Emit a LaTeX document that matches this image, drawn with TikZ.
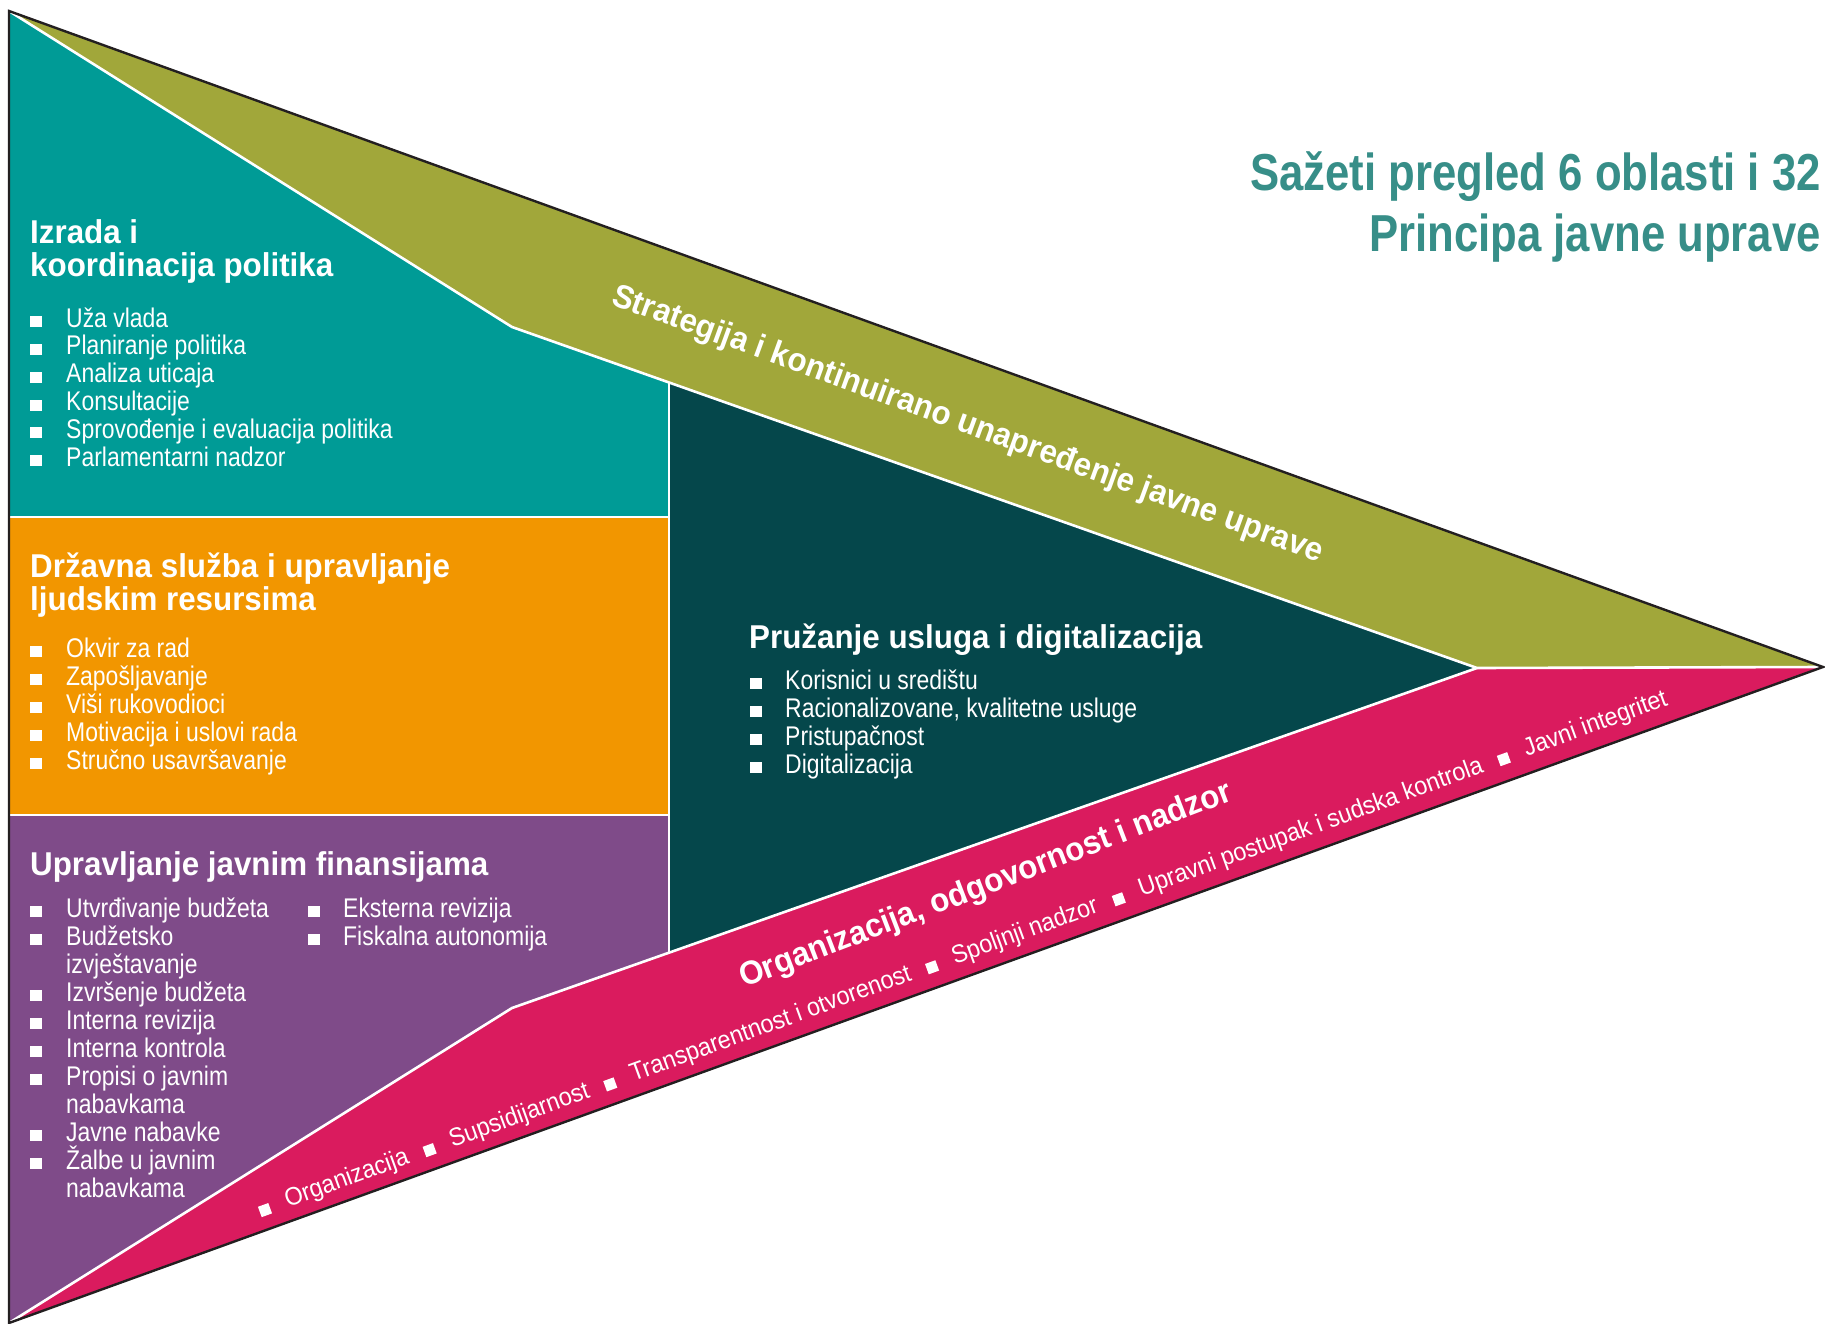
\documentclass[tikz,border=0pt]{standalone}
\usepackage{fontspec}
\setmainfont{Liberation Sans}
\newfontfamily\headfam[FakeStretch=0.95]{Liberation Sans}
\newfontfamily\titlefam[FakeStretch=0.84]{Liberation Sans}
\newfontfamily\itemfam[FakeStretch=0.85]{Liberation Sans}
\newfontfamily\bandfam[FakeStretch=0.93]{Liberation Sans}

\definecolor{cteal}{HTML}{009B96}
\definecolor{colive}{HTML}{A1A73A}
\definecolor{corange}{HTML}{F29600}
\definecolor{cpurple}{HTML}{7F4B89}
\definecolor{cdark}{HTML}{05474B}
\definecolor{cmagenta}{HTML}{DA1B5E}
\definecolor{ctitle}{HTML}{378E88}
\definecolor{cedge}{HTML}{231F20}

% small white square used inside the rotated band text
\newcommand\bandsq{\rule{11pt}{11pt}}

\begin{document}
\begin{tikzpicture}[x=1pt,y=-1pt,
  headtxt/.style={anchor=base west, inner sep=0pt, text=white,
    font=\headfam\bfseries\fontsize{33}{33}\selectfont},
  itemtxt/.style={anchor=base west, inner sep=0pt, text=white,
    font=\itemfam\fontsize{27}{28}\selectfont},
  bandtxt/.style={anchor=base west, inner sep=0pt, text=white,
    font=\bandfam\fontsize{25.2}{25.2}\selectfont},
  titletxt/.style={anchor=base east, inner sep=0pt, text=ctitle,
    font=\titlefam\bfseries\fontsize{52}{52}\selectfont},
  bul/.style={anchor=south west, fill=white, inner sep=0pt,
    minimum width=11.5pt, minimum height=11pt},
  sep/.style={draw=white, line width=2.6pt, line join=miter},
  edge/.style={draw=cedge, line width=2.4pt, line join=miter},
]
\useasboundingbox (0,0) rectangle (1825,1324);

% corner points of the arrow and its inner divisions
\coordinate (A) at (9,11);
\coordinate (B) at (9,1323);
\coordinate (T) at (1823,667);
\coordinate (K1) at (512,327);
\coordinate (K2) at (512,1008);
\coordinate (I) at (1477,668);
\coordinate (P1) at (669,382.5);
\coordinate (P2) at (669,952.7);
\coordinate (L1) at (9,517);
\coordinate (R1) at (669,517);
\coordinate (L2) at (9,815);
\coordinate (R2) at (669,815);

% coloured areas
\fill[colive] (A) -- (T) -- (I) -- (K1) -- cycle;
\fill[cteal] (A) -- (K1) -- (P1) -- (R1) -- (L1) -- cycle;
\fill[corange] (L1) -- (R1) -- (R2) -- (L2) -- cycle;
\fill[cpurple] (L2) -- (R2) -- (P2) -- (K2) -- (B) -- cycle;
\fill[cdark] (P1) -- (I) -- (P2) -- cycle;
\fill[cmagenta] (B) -- (K2) -- (I) -- (T) -- cycle;

% white separating lines
\draw[sep] (A) -- (K1) -- (I) -- (T);
\draw[sep] (B) -- (K2) -- (I);
\draw[sep] (P1) -- (P2);
\draw[sep] (L1) -- (R1);
\draw[sep] (L2) -- (R2);

% dark outline of the arrow
\draw[edge] (A) -- (T) -- (B) -- cycle;

% title
\node[titletxt] (title1) at (1821,191) {Sažeti pregled 6 oblasti i 32};
\node[titletxt] (title2) at (1821,252) {Principa javne uprave};

% policy development and coordination
\node[headtxt] (h1a) at (30,243.3) {Izrada i};
\node[headtxt] (h1b) at (30,276.7) {koordinacija politika};
\foreach \t [count=\i] in {Uža vlada, Planiranje politika, Analiza uticaja,
    Konsultacije, Sprovođenje i evaluacija politika, Parlamentarni nadzor} {
  \node[bul] (pb\i) at (30,{327+27.9*(\i-1)}) {};
  \node[itemtxt] (pt\i) at (66,{327+27.9*(\i-1)}) {\t};
}

% civil service
\node[headtxt] (h2a) at (30,577) {Državna služba i upravljanje};
\node[headtxt] (h2b) at (30,610) {ljudskim resursima};
\foreach \t [count=\i] in {Okvir za rad, Zapošljavanje, Viši rukovodioci,
    Motivacija i uslovi rada, Stručno usavršavanje} {
  \node[bul] (cb\i) at (30,{657+28*(\i-1)}) {};
  \node[itemtxt] (ct\i) at (66,{657+28*(\i-1)}) {\t};
}

% public finance
\node[headtxt] (h3) at (30,875) {Upravljanje javnim finansijama};
\foreach \b/\t [count=\i] in {1/Utvrđivanje budžeta, 1/Budžetsko, 0/izvještavanje,
    1/Izvršenje budžeta, 1/Interna revizija, 1/Interna kontrola,
    1/Propisi o javnim, 0/nabavkama, 1/Javne nabavke, 1/Žalbe u javnim, 0/nabavkama} {
  \ifnum\b=1 \node[bul] (fb\i) at (30,{917+28*(\i-1)}) {}; \fi
  \node[itemtxt] (ft\i) at (66,{917+28*(\i-1)}) {\t};
}
\foreach \t [count=\i] in {Eksterna revizija, Fiskalna autonomija} {
  \node[bul] (gb\i) at (308,{917+28*(\i-1)}) {};
  \node[itemtxt] (gt\i) at (343,{917+28*(\i-1)}) {\t};
}

% service delivery
\node[headtxt] (h4) at (749,648) {Pružanje usluga i digitalizacija};
\foreach \t [count=\i] in {Korisnici u središtu, {Racionalizovane, kvalitetne usluge},
    Pristupačnost, Digitalizacija} {
  \node[bul] (sb\i) at (750,{689+28*(\i-1)}) {};
  \node[itemtxt] (st\i) at (785,{689+28*(\i-1)}) {\t};
}

% strategic band
\node[headtxt, rotate=-20] (strat) at (610,304)
  {Strategija i kontinuirano unapređenje javne uprave};

% accountability band
\node[headtxt, rotate=21] (acc) at (744,988)
  {Organizacija, odgovornost i nadzor};
\node[bandtxt, rotate=20] (accitems) at (261.5,1217.2)
  {\bandsq\hspace{17pt}Organizacija\hspace{17pt}\bandsq\hspace{17pt}Supsidijarnost\hspace{17pt}\bandsq\hspace{17pt}Transparentnost i otvorenost\hspace{17pt}\bandsq\hspace{17pt}Spoljnji nadzor\hspace{17pt}\bandsq\hspace{17pt}Upravni postupak i sudska kontrola\hspace{17pt}\bandsq\hspace{17pt}Javni integritet};
\end{tikzpicture}
\end{document}
